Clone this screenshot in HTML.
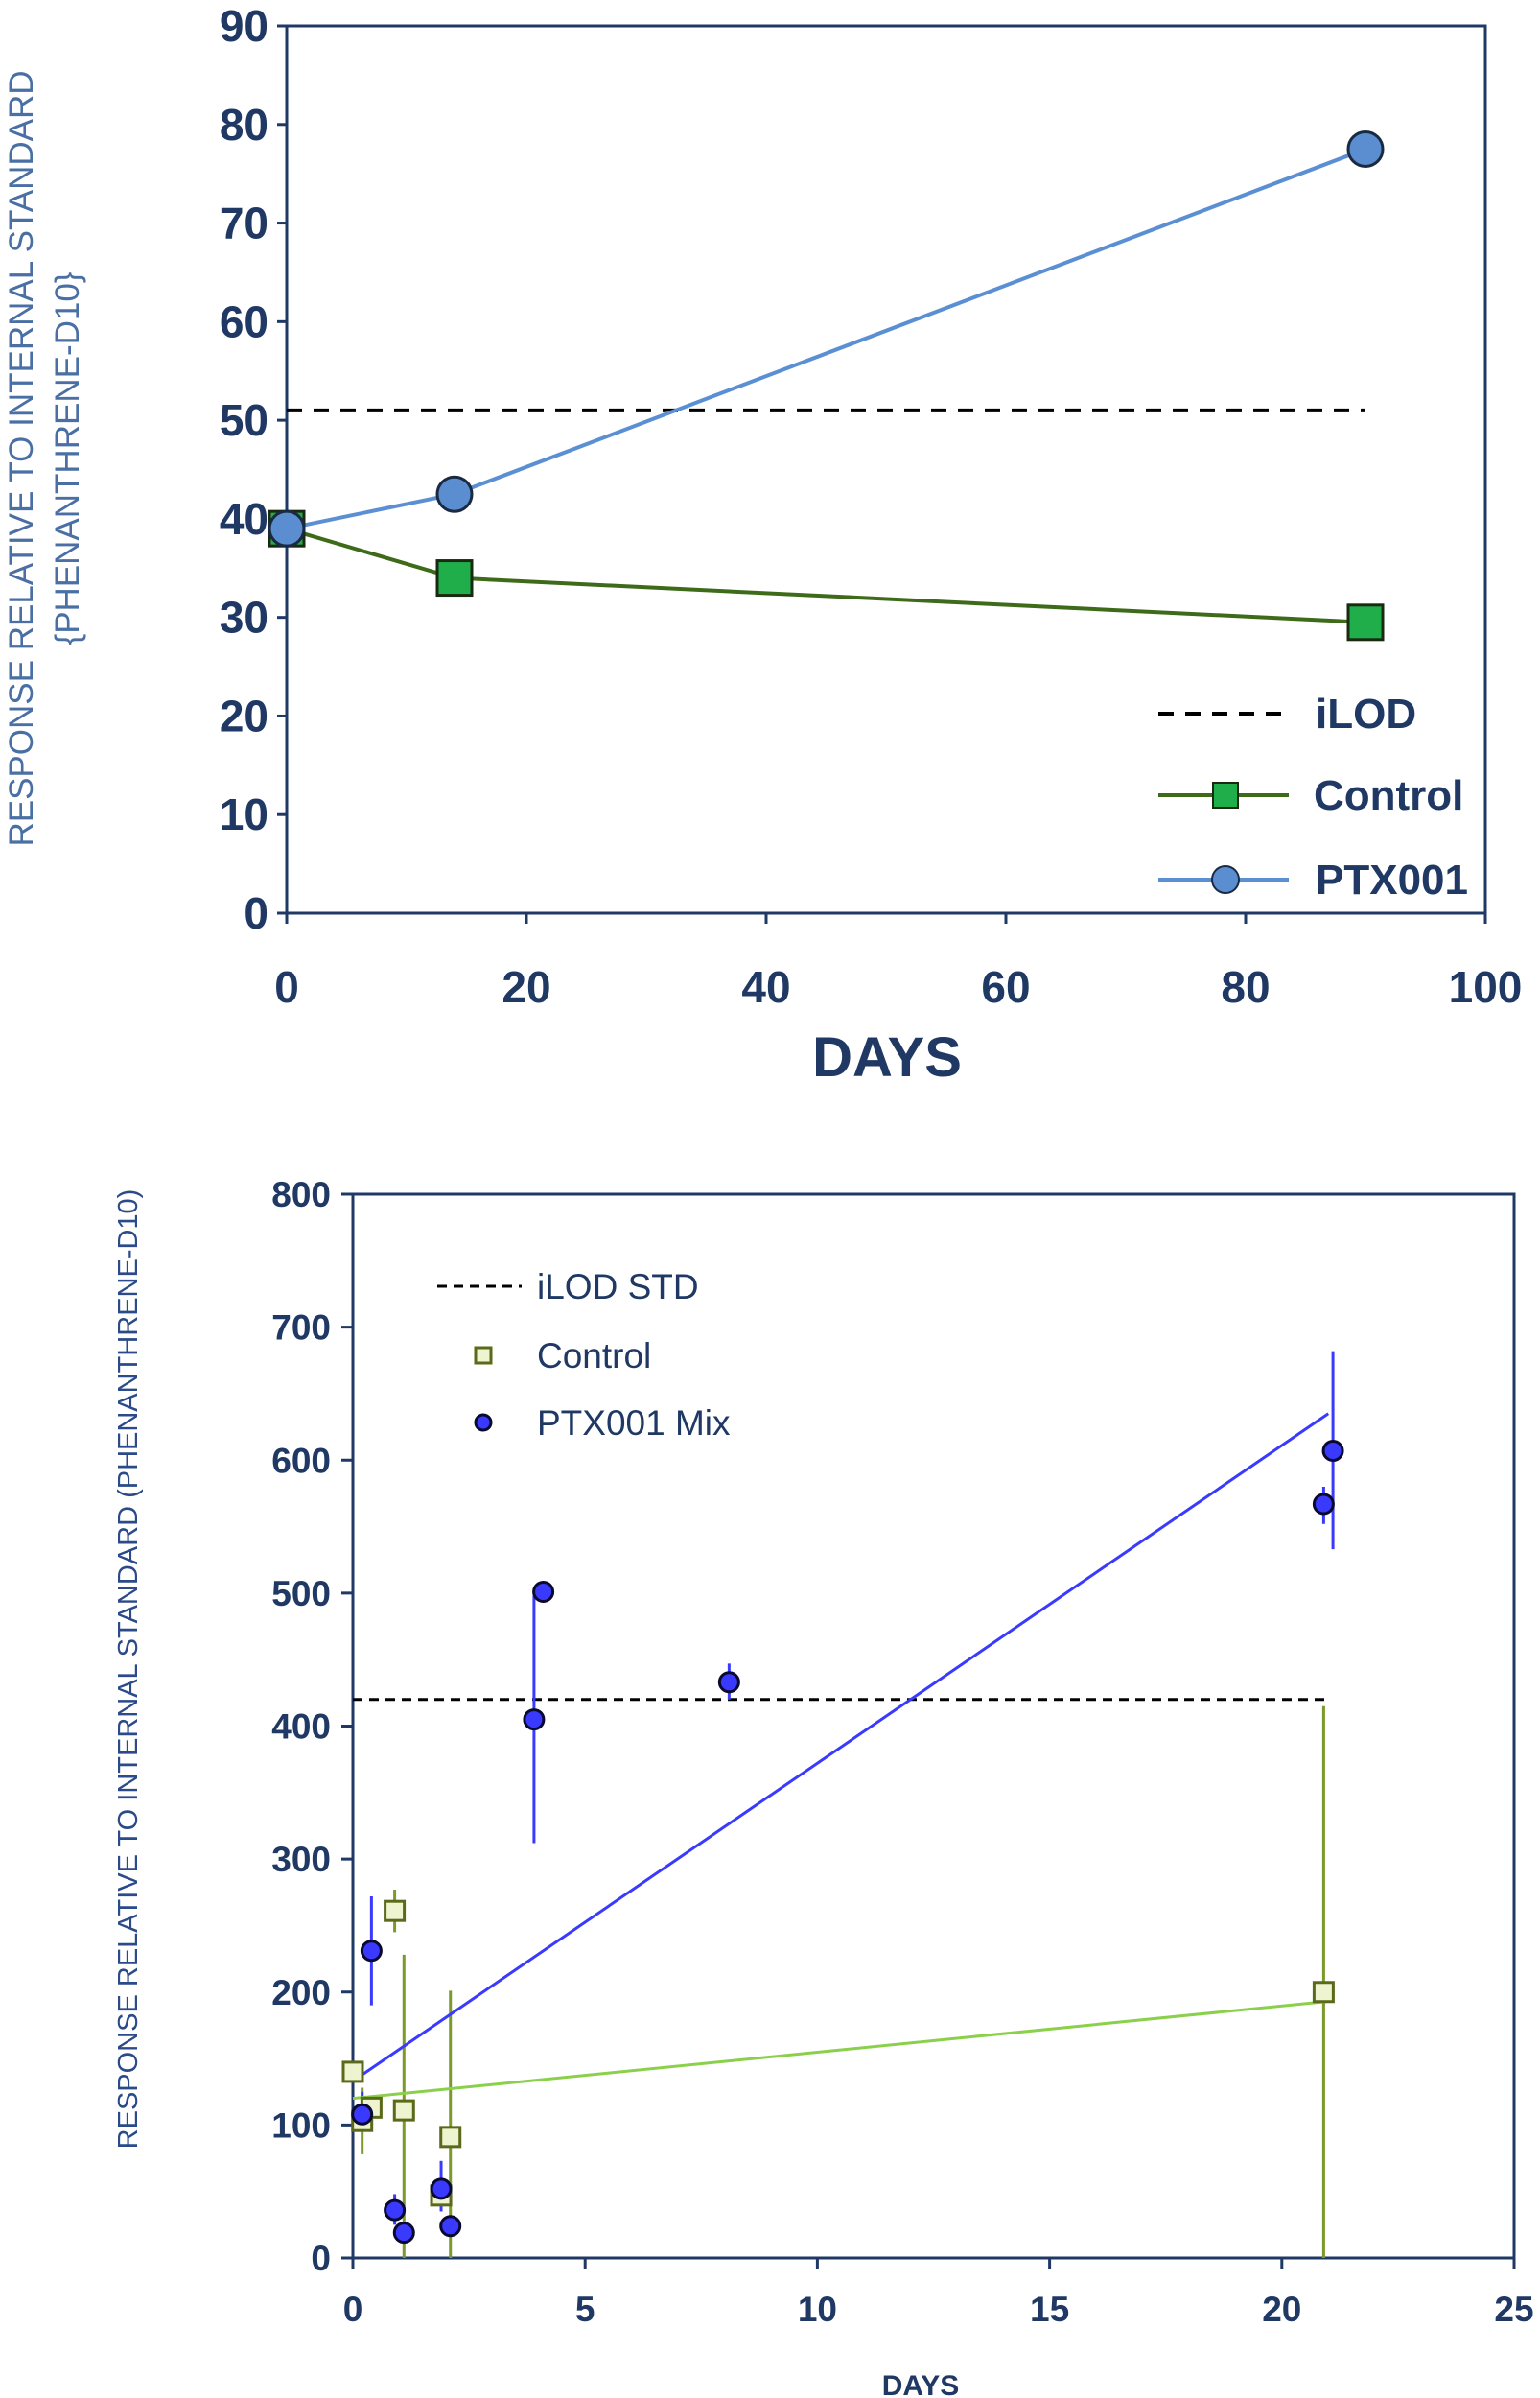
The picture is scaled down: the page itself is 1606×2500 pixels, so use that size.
<!DOCTYPE html>
<html><head><meta charset="utf-8"><style>
html,body{margin:0;padding:0;background:#fff;}
svg{display:block;font-family:"Liberation Sans Narrow","Liberation Sans",sans-serif;}
</style></head><body>
<svg id="s" width="1606" height="2500" viewBox="0 0 1606 2500" xmlns="http://www.w3.org/2000/svg"></svg>
<script>
// ---- Chart 1 data ----
const c1Days = [0, 14, 90];
const c1Control = [39, 34, 29.5];
const c1Ptx = [39, 42.5, 77.5];
const c1Ilod = 51;
const c1YTicks = [0,10,20,30,40,50,60,70,80,90];
const c1XTicks = [0,20,40,60,80,100];
// ---- Chart 2 data ----
const c2PtxX = [0.2, 0.4, 0.9, 1.1, 1.9, 2.1, 3.9, 4.1, 8.1, 20.9, 21.1];
const c2PtxY = [108, 231, 36, 19, 52, 24, 405, 501, 433, 567, 607];
const c2PtxLo = [95, 190, 25, 12, 35, 18, 312, 495, 420, 552, 533];
const c2PtxHi = [125, 272, 48, 26, 73, 30, 498, 505, 447, 580, 682];
const c2CtlX = [0, 0.2, 0.4, 0.9, 1.1, 1.9, 2.1, 20.9];
const c2CtlY = [140, 103, 113, 261, 111, 47, 91, 200];
const c2CtlLo = [140, 78, 113, 245, 0, 40, 0, 0];
const c2CtlHi = [140, 128, 113, 277, 228, 55, 201, 415];
const c2PtxTrend = [133, 635];
const c2CtlTrend = [120, 193];
const c2TrendX = [0, 21];
const c2Ilod = 420;
const c2YTicks = [0,100,200,300,400,500,600,700,800];
const c2XTicks = [0,5,10,15,20,25];

const svg = document.getElementById('s');
const NS = 'http://www.w3.org/2000/svg';
function mk(tag, attrs, parent){
  const e = document.createElementNS(NS, tag);
  for (const k in attrs) e.setAttribute(k, attrs[k]);
  (parent||svg).appendChild(e);
  return e;
}
const AX = '#1f3864';

// ===== Chart 1 =====
const x1 = v => 299 + (v/100)*(1549-299);
const y1 = v => 952 - (v/90)*(952-27);
const g1 = mk('g', {});


let r = mk('rect', {x:299,y:27,width:1250,height:925,fill:'none',stroke:AX,'stroke-width':3}, g1);


c1YTicks.forEach(t=>{
  mk('line',{x1:289,x2:299,y1:y1(t),y2:y1(t),stroke:AX,'stroke-width':3},g1);
  const tx = mk('text',{x:280,y:y1(t)+16,'text-anchor':'end','font-size':46,'font-weight':'bold',fill:AX},g1);
  tx.textContent = t;
  
  
});
c1XTicks.forEach(t=>{
  mk('line',{x1:x1(t),x2:x1(t),y1:952,y2:963,stroke:AX,'stroke-width':3},g1);
  const tx = mk('text',{x:x1(t),y:1045,'text-anchor':'middle','font-size':46,'font-weight':'bold',fill:AX},g1);
  tx.textContent = t;
  
  
});
let t = mk('text',{x:925,y:1122,'text-anchor':'middle','font-size':58,'font-weight':'bold',fill:AX},g1);
t.textContent='DAYS';


t = mk('text',{x:0,y:0,transform:'translate(34,478) rotate(-90)','text-anchor':'middle','font-size':35,fill:'#4a6fa5','font-family':'Liberation Sans, sans-serif'},g1);
t.textContent='RESPONSE RELATIVE TO INTERNAL STANDARD';


t = mk('text',{x:0,y:0,transform:'translate(82,478) rotate(-90)','text-anchor':'middle','font-size':35,fill:'#4a6fa5','font-family':'Liberation Sans, sans-serif'},g1);
t.textContent='{PHENANTHRENE-D10}';


let l = mk('line',{x1:x1(0),x2:x1(90),y1:y1(c1Ilod),y2:y1(c1Ilod),stroke:'#000','stroke-width':4,'stroke-dasharray':'16 12'},g1);


let p = mk('polyline',{points:c1Days.map((d,i)=>x1(d)+','+y1(c1Control[i])).join(' '),fill:'none',stroke:'#3d6b1a','stroke-width':4},g1);


p = mk('polyline',{points:c1Days.map((d,i)=>x1(d)+','+y1(c1Ptx[i])).join(' '),fill:'none',stroke:'#5b8fd4','stroke-width':4},g1);


c1Days.forEach((d,i)=>{
  const q = mk('rect',{x:x1(d)-18,y:y1(c1Control[i])-18,width:36,height:36,fill:'#1fae4a',stroke:'#1a2a10','stroke-width':3},g1);
  
  
});
c1Days.forEach((d,i)=>{
  const c = mk('circle',{cx:x1(d),cy:y1(c1Ptx[i]),r:18,fill:'#5a8ed0',stroke:'#1a2a40','stroke-width':3},g1);
  
  
});
// legend 1
const lg1 = mk('g',{},g1);


mk('line',{x1:1208,x2:1344,y1:744,y2:744,stroke:'#000','stroke-width':4,'stroke-dasharray':'16 12'},lg1);
t=mk('text',{x:1372,y:759,'font-size':44,'font-weight':'bold',fill:AX},lg1);t.textContent='iLOD';


mk('line',{x1:1208,x2:1344,y1:829,y2:829,stroke:'#3d6b1a','stroke-width':4},lg1);
mk('rect',{x:1265,y:816,width:26,height:26,fill:'#1fae4a',stroke:'#1a2a10','stroke-width':2},lg1);
t=mk('text',{x:1370,y:844,'font-size':44,'font-weight':'bold',fill:AX},lg1);t.textContent='Control';


mk('line',{x1:1208,x2:1344,y1:917,y2:917,stroke:'#5b8fd4','stroke-width':4},lg1);
mk('circle',{cx:1278,cy:917,r:14,fill:'#5a8ed0',stroke:'#1a2a40','stroke-width':2},lg1);
t=mk('text',{x:1372,y:932,'font-size':44,'font-weight':'bold',fill:AX},lg1);t.textContent='PTX001';



// ===== Chart 2 =====
const x2 = v => 368 + (v/25)*(1579-368);
const y2 = v => 2354 - (v/800)*(2354-1245);
const g2 = mk('g', {});


r = mk('rect',{x:368,y:1245,width:1211,height:1109,fill:'none',stroke:AX,'stroke-width':3},g2);


c2YTicks.forEach(v=>{
  mk('line',{x1:356,x2:368,y1:y2(v),y2:y2(v),stroke:AX,'stroke-width':3},g2);
  const tx = mk('text',{x:345,y:y2(v)+13,'text-anchor':'end','font-size':37,'font-weight':'bold',fill:AX},g2);
  tx.textContent=v;
  
  
});
c2XTicks.forEach(v=>{
  mk('line',{x1:x2(v),x2:x2(v),y1:2354,y2:2365,stroke:AX,'stroke-width':3},g2);
  const tx = mk('text',{x:x2(v),y:2420,'text-anchor':'middle','font-size':37,'font-weight':'bold',fill:AX},g2);
  tx.textContent=v;
  
  
});
t=mk('text',{x:960,y:2497,'text-anchor':'middle','font-size':30,'font-weight':'bold',fill:AX},g2);t.textContent='DAYS';


t=mk('text',{x:0,y:0,transform:'translate(143,1740) rotate(-90)','text-anchor':'middle','font-size':29,fill:'#2a4a8a','font-family':'Liberation Sans, sans-serif'},g2);
t.textContent='RESPONSE RELATIVE TO INTERNAL STANDARD (PHENANTHRENE-D10)';


l=mk('line',{x1:x2(0),x2:x2(21),y1:y2(c2Ilod),y2:y2(c2Ilod),stroke:'#000','stroke-width':3,'stroke-dasharray':'10 7'},g2);


c2CtlX.forEach((d,i)=>{
  const e = mk('line',{x1:x2(d),x2:x2(d),y1:y2(c2CtlLo[i]),y2:y2(c2CtlHi[i]),stroke:'#7a9a2a','stroke-width':3},g2);
  
  
});
c2PtxX.forEach((d,i)=>{
  const e = mk('line',{x1:x2(d),x2:x2(d),y1:y2(c2PtxLo[i]),y2:y2(c2PtxHi[i]),stroke:'#3a3aff','stroke-width':3},g2);
  
  
});
l=mk('line',{x1:x2(c2TrendX[0]),x2:x2(c2TrendX[1]),y1:y2(c2PtxTrend[0]),y2:y2(c2PtxTrend[1]),stroke:'#3a3aff','stroke-width':3},g2);


l=mk('line',{x1:x2(c2TrendX[0]),x2:x2(c2TrendX[1]),y1:y2(c2CtlTrend[0]),y2:y2(c2CtlTrend[1]),stroke:'#8ad04a','stroke-width':3},g2);


c2CtlX.forEach((d,i)=>{
  const q = mk('rect',{x:x2(d)-10,y:y2(c2CtlY[i])-10,width:20,height:20,fill:'#eef3d0',stroke:'#5a6a1a','stroke-width':3},g2);
  
  
});
c2PtxX.forEach((d,i)=>{
  const c = mk('circle',{cx:x2(d),cy:y2(c2PtxY[i]),r:10,fill:'#3a3aff',stroke:'#0a0a30','stroke-width':3},g2);
  
  
});
const lg2 = mk('g',{},g2);


mk('line',{x1:456,x2:544,y1:1341,y2:1341,stroke:'#000','stroke-width':3,'stroke-dasharray':'10 7'},lg2);
t=mk('text',{x:560,y:1354,'font-size':37,fill:AX,'font-family':'Liberation Sans, sans-serif'},lg2);t.textContent='iLOD STD';


mk('rect',{x:496,y:1405,width:16,height:16,fill:'#eef3d0',stroke:'#5a6a1a','stroke-width':3},lg2);
t=mk('text',{x:560,y:1426,'font-size':37,fill:AX,'font-family':'Liberation Sans, sans-serif'},lg2);t.textContent='Control';


mk('circle',{cx:504,cy:1483,r:8,fill:'#3a3aff',stroke:'#0a0a30','stroke-width':3},lg2);
t=mk('text',{x:560,y:1496,'font-size':37,fill:AX,'font-family':'Liberation Sans, sans-serif'},lg2);t.textContent='PTX001 Mix';


</script>
</body></html>
